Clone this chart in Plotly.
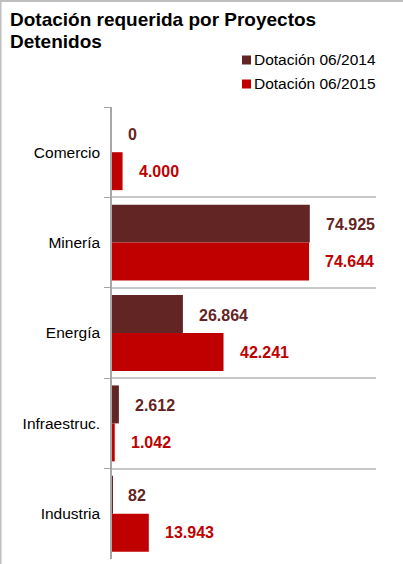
import plotly.graph_objects as go

categories = ["Comercio", "Minería", "Energía", "Infraestruc.", "Industria"]
series_names = ["Dotación 06/2014", "Dotación 06/2015"]
values_2014 = [0, 74925, 26864, 2612, 82]
values_2015 = [4000, 74644, 42241, 1042, 13943]
colors = ["#632523", "#C00000"]
title_lines = ["Dotación requerida por Proyectos", "Detenidos"]

W, H = 403, 564
L, R, T, B = 112, 376, 107, 559
PW, PH = R - L, B - T


def px_x(p):
    return (p - L) / PW


def px_y(p):
    return (B - p) / PH


def fmt(v):
    return f"{v:,}".replace(",", ".")


FONT = "Liberation Sans, Arial, sans-serif"

fig = go.Figure()
for name, vals, col in zip(series_names, [values_2014, values_2015], colors):
    fig.add_trace(go.Bar(
        y=categories, x=vals, name=name, orientation="h",
        marker=dict(color=col, line=dict(width=0)),
        showlegend=False, hoverinfo="skip",
    ))

annotations = []
shapes = []
# data labels
for si, (vals, col) in enumerate(zip([values_2014, values_2015], colors)):
    for ci, (cat, v) in enumerate(zip(categories, vals)):
        annotations.append(dict(
            x=v, y=cat, xref="x", yref="y", text=f"<b>{fmt(v)}</b>",
            showarrow=False, xanchor="left", yanchor="middle",
            xshift=14, yshift=(18 if si == 0 else -19),
            font=dict(family=FONT, size=16, color=col),
        ))

# title
for i, line in enumerate(title_lines):
    annotations.append(dict(
        x=px_x(8), y=px_y(20 + i * 21), xref="paper", yref="paper",
        text=f"<b>{line}</b>", showarrow=False, xanchor="left", yanchor="middle",
        font=dict(family=FONT, size=19, color="#000000"),
    ))

# legend
for i, (name, col) in enumerate(zip(series_names, colors)):
    cy = 60 + i * 24
    shapes.append(dict(
        type="rect", xref="paper", yref="paper",
        x0=px_x(242), x1=px_x(251), y0=px_y(cy - 4.5), y1=px_y(cy + 4.5),
        fillcolor=col, line=dict(width=0),
    ))
    annotations.append(dict(
        x=px_x(252), y=px_y(cy), xref="paper", yref="paper", text=name,
        showarrow=False, xanchor="left", yanchor="middle",
        font=dict(family=FONT, size=15.5, color="#000000"),
    ))

# outer border (top and left)
shapes.append(dict(type="line", xref="paper", yref="paper",
                   x0=px_x(0), x1=px_x(W), y0=px_y(1), y1=px_y(1),
                   line=dict(color="#BFBFBF", width=2)))
shapes.append(dict(type="line", xref="paper", yref="paper",
                   x0=px_x(0.75), x1=px_x(0.75), y0=px_y(0), y1=px_y(H),
                   line=dict(color="#BFBFBF", width=1.5)))

fig.update_layout(
    width=W, height=H,
    margin=dict(l=L, r=W - R, t=T, b=H - B, pad=0),
    paper_bgcolor="white", plot_bgcolor="white",
    barmode="group", bargap=0.16, bargroupgap=0,
    separators=",.",
    font=dict(family=FONT, size=15.5, color="#000000"),
    xaxis=dict(range=[0, 100000], visible=False, fixedrange=True),
    yaxis=dict(
        type="category", categoryorder="array", categoryarray=categories,
        autorange="reversed", tickson="boundaries", ticks="outside",
        ticklen=6, tickcolor="#A6A6A6", tickwidth=1,
        showline=True, linecolor="#A6A6A6", linewidth=1.5,
        showgrid=True, gridcolor="#C8C8C8", gridwidth=1.5,
        tickfont=dict(family=FONT, size=15.5, color="#000000"),
        ticklabelstandoff=7, fixedrange=True, automargin=False,
    ),
    annotations=annotations, shapes=shapes,
    showlegend=False,
)

fig.write_html("out.html", config={"displayModeBar": False},
               post_script="document.body.style.margin='0';document.body.style.overflow='hidden';")
